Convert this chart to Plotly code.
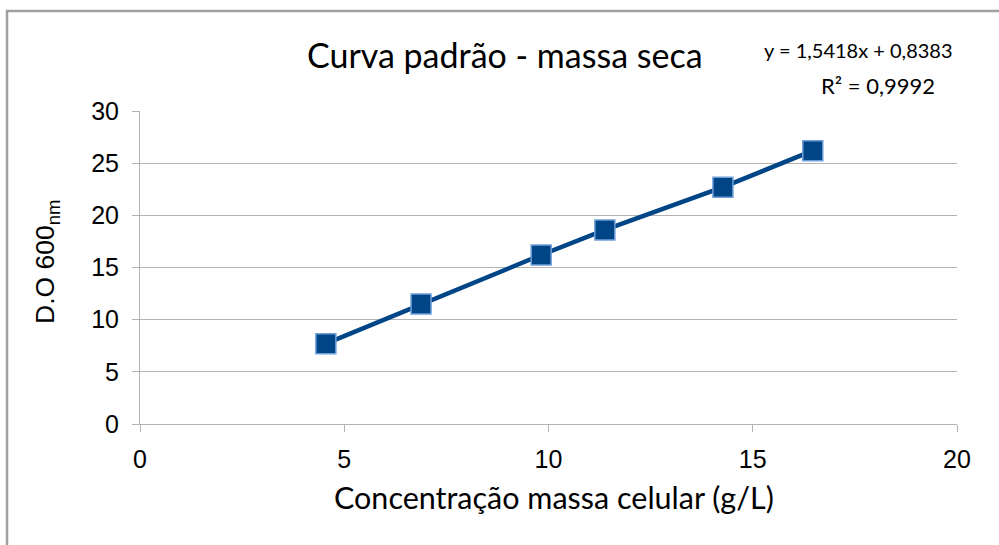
import plotly.graph_objects as go

conc = [4.55, 6.88, 9.82, 11.38, 14.27, 16.47]
od = [7.7, 11.5, 16.2, 18.6, 22.7, 26.2]
x_ticks = [0, 5, 10, 15, 20]
y_ticks = [0, 5, 10, 15, 20, 25, 30]

title_text = "Curva padrão - massa seca"
eq_text = "y = 1,5418x + 0,8383"
r2_text = "R² = 0,9992"
x_title = "Concentração massa celular (g/L)"
y_title = "D.O 600<sub>nm</sub>"

L, R, T, B = 140, 42, 111, 121
W, H = 999, 545
pw, ph = W - L - R, H - T - B

def px(xp):
    return (xp - L) / pw

def py(yp):
    return (H - B - yp) / ph

fig = go.Figure()
fig.add_trace(go.Scatter(
    x=conc, y=od, mode="lines+markers",
    line=dict(color="#004586", width=4.5),
    marker=dict(symbol="square", size=20, color="#004586",
                line=dict(color="#6f9fd8", width=1.5)),
    showlegend=False, cliponaxis=False,
))

axis_font = dict(family="Liberation Sans, Arial", size=25, color="#000000")
fig.update_layout(
    width=W, height=H,
    margin=dict(l=L, r=R, t=T, b=B, pad=0),
    paper_bgcolor="white", plot_bgcolor="white",
    xaxis=dict(range=[0, 20], tickvals=x_ticks, showgrid=False, zeroline=False,
               showline=True, linecolor="#b3b3b3", linewidth=1,
               ticks="outside", ticklen=7, tickcolor="#b3b3b3",
               tickfont=axis_font, ticklabelstandoff=6),
    yaxis=dict(range=[0, 30], tickvals=y_ticks, showgrid=True, gridcolor="#b3b3b3",
               gridwidth=1, zeroline=False,
               showline=True, linecolor="#b3b3b3", linewidth=1,
               ticks="outside", ticklen=7, tickcolor="#b3b3b3",
               tickfont=axis_font, ticklabelstandoff=8),
    shapes=[dict(type="path", xref="paper", yref="paper",
                 path=f"M {px(7)} {py(560)} L {px(7)} {py(11)} L {px(1010)} {py(11)}",
                 line=dict(color="#a0a0a0", width=2.5))],
    annotations=[
        dict(text=title_text, x=px(505), y=py(55), xref="paper", yref="paper",
             showarrow=False, xanchor="center", yanchor="middle",
             font=dict(family="Lato", size=34, color="#000000")),
        dict(text=eq_text, x=px(858), y=py(50), xref="paper", yref="paper",
             showarrow=False, xanchor="center", yanchor="middle",
             font=dict(family="Lato", size=20, color="#000000")),
        dict(text=r2_text, x=px(878), y=py(85), xref="paper", yref="paper",
             showarrow=False, xanchor="center", yanchor="middle",
             font=dict(family="Lato", size=22, color="#000000")),
        dict(text=x_title, x=px(554), y=py(497), xref="paper", yref="paper",
             showarrow=False, xanchor="center", yanchor="middle",
             font=dict(family="Lato", size=30.5, color="#000000")),
        dict(text=y_title, x=px(47), y=py(262), xref="paper", yref="paper",
             showarrow=False, xanchor="center", yanchor="middle", textangle=-90,
             font=dict(family="Liberation Sans, Arial", size=26.5, color="#000000")),
    ],
)

fig.write_html("out.html", config={"displayModeBar": False},
               post_script="document.body.style.margin='0';document.body.style.overflow='hidden';")
